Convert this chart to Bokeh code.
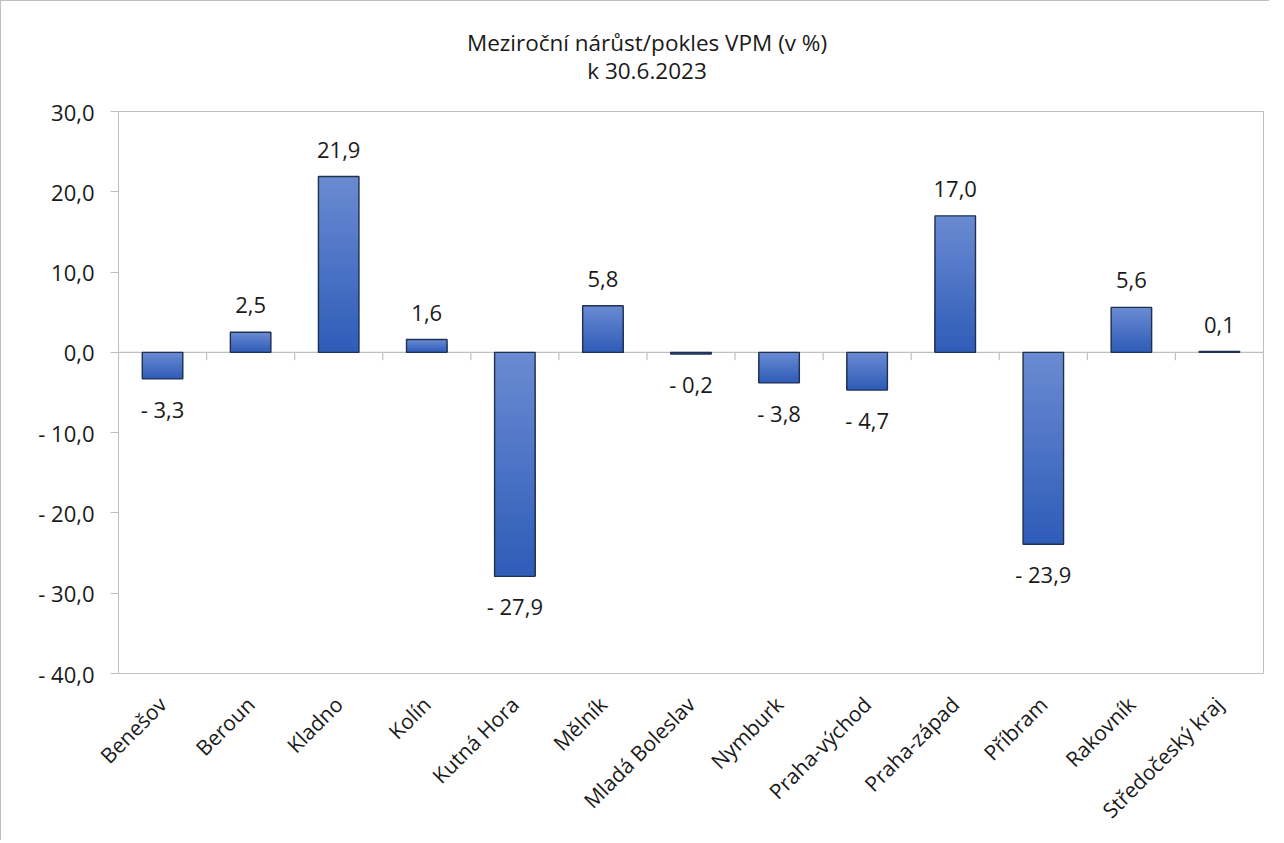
import math
from bokeh.plotting import figure
from bokeh.layouts import column
from bokeh.models import Range1d, FactorRange, FixedTicker, ColumnDataSource, Span, Div
from bokeh.core.properties import value
from bokeh.embed import file_html
from bokeh.resources import INLINE

categories = ["Benešov", "Beroun", "Kladno", "Kolín", "Kutná Hora", "Mělník",
              "Mladá Boleslav", "Nymburk", "Praha-východ", "Praha-západ",
              "Příbram", "Rakovník", "Středočeský kraj"]
values = [-3.3, 2.5, 21.9, 1.6, -27.9, 5.8, -0.2, -3.8, -4.7, 17.0, -23.9, 5.6, 0.1]
y_ticks = [-40, -30, -20, -10, 0, 10, 20, 30]
y_tick_labels = ["- 40,0", "- 30,0", "- 20,0", "- 10,0", "0,0", "10,0", "20,0", "30,0"]
title_lines = ["Meziroční nárůst/pokles VPM (v %)", "k 30.6.2023"]

FONT = "Open Sans"
TXT = "#1a1a1a"
GRAY = "#bfbfbf"
TOP_COL = (0x6B, 0x8B, 0xD2)
BOT_COL = (0x2E, 0x5C, 0xB8)


def fmt(v):
    s = f"{abs(v):.1f}".replace(".", ",")
    return ("- " + s) if v < 0 else s


def mix(t):
    r, g, b = (round(a + (c - a) * t) for a, c in zip(TOP_COL, BOT_COL))
    return f"#{r:02x}{g:02x}{b:02x}"


Y_MIN, Y_MAX = -40, 30
W = 1268
DH = 92
H = 747
ML, MR, MT, MB = 117, 6, 18, 167

title_html = (
    f"<div style='box-sizing:border-box; width:{W}px; padding-left:24px; padding-top:28px; "
    f"text-align:center; font-family:\"{FONT}\"; font-size:22.5px; line-height:28px; "
    f"color:{TXT}; white-space:nowrap'>" + "<br>".join(title_lines) + "</div>"
)
title_div = Div(text=title_html, width=W, height=DH, margin=0)

p = figure(x_range=FactorRange(factors=categories), y_range=Range1d(Y_MIN, Y_MAX),
           width=W, height=H, output_backend="svg", toolbar_location=None,
           min_border_left=ML, min_border_right=MR, min_border_top=MT,
           min_border_bottom=MB, title=None, margin=0)
p.background_fill_color = "white"
p.border_fill_color = "white"
p.outline_line_color = GRAY
p.xgrid.visible = False
p.ygrid.visible = False

# zero line
p.add_layout(Span(location=0, dimension="width", line_color=GRAY, line_width=1.2,
                  level="underlay"))

# category boundary ticks on the zero line
px_per_unit = (H - MT - MB) / (Y_MAX - Y_MIN)
tick_len = 8 / px_per_unit
bounds = list(range(len(categories) + 1))
p.segment(x0=bounds, x1=bounds, y0=[0] * len(bounds), y1=[-tick_len] * len(bounds),
          line_color=GRAY, line_width=1.2)

# gradient bars (overlapping slices, top -> bottom)
N = 60
bw = 0.46
sx, stop, sbot, scol = [], [], [], []
for c, v in zip(categories, values):
    hi, lo = max(v, 0), min(v, 0)
    for k in range(N):
        sx.append(c)
        stop.append(hi - (hi - lo) * k / N)
        sbot.append(lo)
        scol.append(mix((k + 0.5) / N))
p.vbar(x=sx, top=stop, bottom=sbot, width=bw, fill_color=scol, line_color=None)
p.vbar(x=categories, top=[max(v, 0) for v in values],
       bottom=[min(v, 0) for v in values], width=bw, fill_color=None,
       line_color="#1f3050", line_width=1.4)

# data labels
pos = ColumnDataSource(dict(x=[c for c, v in zip(categories, values) if v >= 0],
                            y=[v for v in values if v >= 0],
                            t=[fmt(v) for v in values if v >= 0]))
neg = ColumnDataSource(dict(x=[c for c, v in zip(categories, values) if v < 0],
                            y=[v for v in values if v < 0],
                            t=[fmt(v) for v in values if v < 0]))
for src, off in ((pos, -27), (neg, 30)):
    p.text(x="x", y="y", text="t", source=src, y_offset=off,
           text_font=value(FONT), text_font_size="22px", text_color=TXT,
           text_align="center", text_baseline="alphabetic")

# y axis
p.yaxis.ticker = FixedTicker(ticks=y_ticks)
p.yaxis.major_label_overrides = {t: l for t, l in zip(y_ticks, y_tick_labels)}
p.yaxis.axis_line_color = GRAY
p.yaxis.major_tick_line_color = GRAY
p.yaxis.minor_tick_line_color = None
p.yaxis.major_tick_in = 0
p.yaxis.major_tick_out = 8
p.yaxis.major_label_standoff = 16
p.yaxis.major_label_text_font = FONT
p.yaxis.major_label_text_font_size = "22px"
p.yaxis.major_label_text_color = TXT

# x axis
p.xaxis.axis_line_color = None
p.xaxis.major_tick_line_color = None
p.xaxis.minor_tick_line_color = None
p.xaxis.major_label_orientation = math.pi / 4
p.xaxis.major_label_standoff = 21
p.xaxis.major_label_text_font = FONT
p.xaxis.major_label_text_font_size = "21px"
p.xaxis.major_label_text_color = TXT

layout = column(title_div, p, spacing=0)
layout.styles = {"border-left": f"1px solid {GRAY}", "border-top": f"1px solid {GRAY}"}

open("out.html", "w").write(file_html(layout, INLINE))
